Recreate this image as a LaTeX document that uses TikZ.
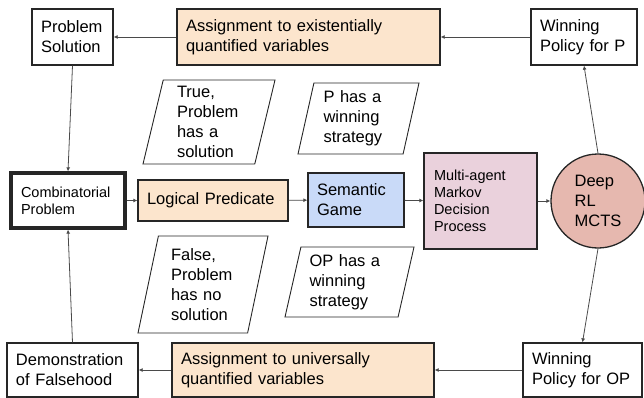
\documentclass[tikz,border=0pt]{standalone}
\usepackage{fontspec}
\setmainfont{Liberation Sans}
\usetikzlibrary{shapes.geometric,arrows.meta}
\definecolor{peach}{HTML}{FCE5CD}
\definecolor{skyblue}{HTML}{C9DAF8}
\definecolor{mauve}{HTML}{EAD1DC}
\definecolor{salmon}{HTML}{E6B8AF}
\definecolor{edge}{HTML}{4A4A4A}
\newcommand{\bigtext}{\fontsize{16.5}{20}\selectfont}
\newcommand{\smalltext}{\fontsize{14.5}{17}\selectfont}
\tikzset{
    box/.style={draw=black!85, line width=1.3pt, rectangle, align=left,
        inner xsep=8pt, font=\bigtext},
    slanted/.style={draw=black!85, line width=0.9pt, trapezium,
        trapezium left angle=75, trapezium right angle=105,
        trapezium stretches body, align=left, font=\bigtext, inner sep=2pt},
    flow/.style={draw=edge, line width=0.8pt, -{Latex[length=4pt,width=4pt]}}
}
\begin{document}
\begin{tikzpicture}[x=1pt,y=-1pt]
    \useasboundingbox (0,0) rectangle (644,398);
    % top row
    \node[box, minimum width=81pt, minimum height=56pt, text width=63pt] (sol) at (72.5,37) {Problem\\Solution};
    \node[box, fill=peach, minimum width=263pt, minimum height=56pt, text width=245pt] (exist) at (308.5,37) {Assignment to existentially\\quantified variables};
    \node[box, minimum width=106pt, minimum height=56pt, text width=88pt] (polP) at (584,37) {Winning\\Policy for P};
    % middle row
    \node[box, line width=3.2pt, font=\smalltext, minimum width=114pt, minimum height=55pt, text width=94pt] (comb) at (68,200.5) {Combinatorial\\Problem};
    \node[box, fill=peach, minimum width=150pt, minimum height=41pt, text width=132pt] (pred) at (213,200.5) {Logical Predicate};
    \node[box, fill=skyblue, minimum width=96pt, minimum height=54pt, text width=78pt] (game) at (356,200) {Semantic\\Game};
    \node[box, fill=mauve, font=\smalltext, minimum width=113pt, minimum height=96pt, text width=93pt] (mdp) at (480.5,201) {Multi-agent\\Markov\\Decision\\Process};
    \node[draw=black!85, line width=1.3pt, circle, fill=salmon, minimum size=94pt, inner sep=0pt, align=left, font=\bigtext] (mcts) at (598,201) {Deep\\RL\\MCTS};
    % bottom row
    \node[box, minimum width=131pt, minimum height=54pt, text width=113pt] (demo) at (72.5,370) {Demonstration\\of Falsehood};
    \node[box, fill=peach, minimum width=262pt, minimum height=54pt, text width=244pt] (univ) at (303,370) {Assignment to universally\\quantified variables};
    \node[box, minimum width=119pt, minimum height=54pt, text width=101pt] (polOP) at (582.5,370) {Winning\\Policy for OP};
    % outcome labels
    \node[slanted, minimum width=132pt, minimum height=84pt, text width=64pt] (yes) at (209,122) {True,\\Problem\\has a\\solution};
    \node[slanted, minimum width=121pt, minimum height=71pt, text width=70pt] (winP) at (358.5,118.5) {P has a\\winning\\strategy};
    \node[slanted, minimum width=130pt, minimum height=97pt, text width=64pt] (no) at (203,284.5) {False,\\Problem\\has no\\solution};
    \node[slanted, minimum width=129pt, minimum height=70pt, text width=80pt] (winOP) at (349.5,282) {OP has a\\winning\\strategy};
    % connectors
    \draw[flow] (comb) -- (pred);
    \draw[flow] (pred) -- (game);
    \draw[flow] (game) -- (mdp);
    \draw[flow] (mdp) -- (mcts);
    \draw[flow] (mcts.north) -- (polP.south);
    \draw[flow] (mcts.south) -- (polOP.north);
    \draw[flow] (polP) -- (exist);
    \draw[flow] (exist) -- (sol);
    \draw[flow] (sol.south) -- (comb.north);
    \draw[flow] (polOP) -- (univ);
    \draw[flow] (univ) -- (demo);
    \draw[flow] (demo.north) -- (comb.south);
\end{tikzpicture}
\end{document}
